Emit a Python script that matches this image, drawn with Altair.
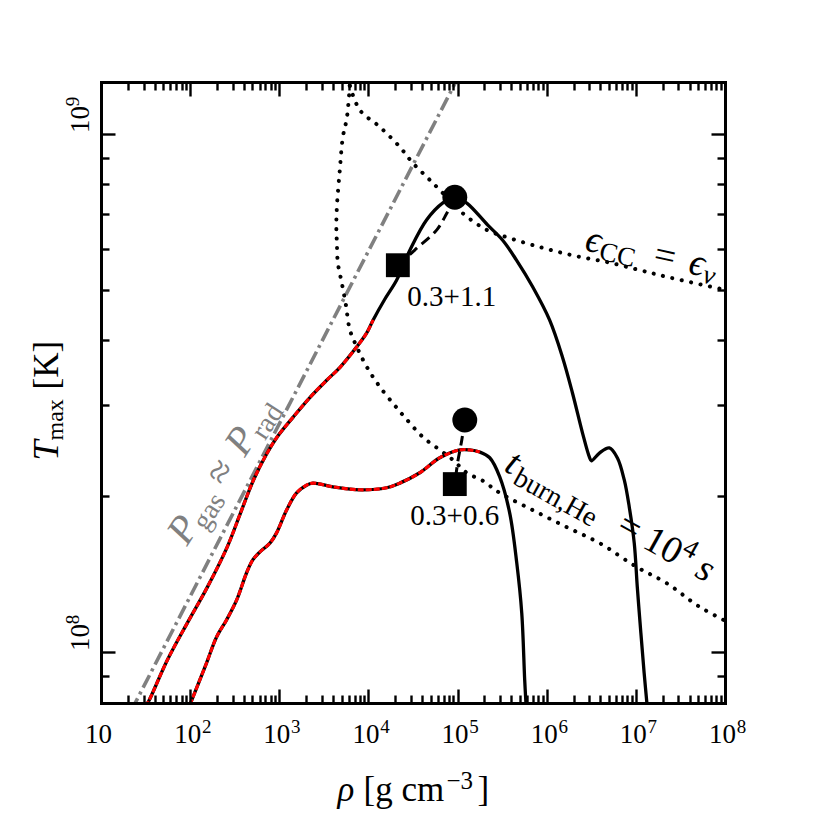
import altair as alt
import pandas as pd

FONT = "Liberation Serif"
W, H = 624, 621

x_domain = [10, 1e8]
y_domain = [7.97e7, 1.26e9]

x_major = [1e1, 1e2, 1e3, 1e4, 1e5, 1e6, 1e7, 1e8]
x_minor = [m * 10 ** k for k in range(1, 8) for m in range(2, 10)]
y_major = [1e8, 1e9]
y_minor = [9e7, 2e8, 3e8, 4e8, 5e8, 6e8, 7e8, 8e8, 9e8]

# upper track (0.3+1.1)
up_rho = [31.6, 34.7, 55.7, 93.1, 156, 261, 367, 514, 731, 946, 1439, 2228, 3428, 4831, 7396, 9572,
          1.130e4, 1.514e4, 2.075e4, 2.924e4, 4.487e4, 6.839e4, 9.33e4, 1.259e5, 2.183e5, 3.206e5,
          4.560e5, 6.950e5, 1.076e6, 1.503e6, 1.945e6, 2.518e6, 3.013e6, 3.170e6, 3.899e6, 5.047e6,
          6.194e6, 7.413e6, 8.433e6, 9.594e6, 1.038e7, 1.138e7, 1.239e7, 1.349e7]
up_T = [7.85e7, 8.07e7, 9.66e7, 1.138e8, 1.334e8, 1.596e8, 1.854e8, 2.148e8, 2.421e8, 2.600e8, 2.844e8,
        3.105e8, 3.350e8, 3.548e8, 3.882e8, 4.130e8, 4.375e8, 4.786e8, 5.224e8, 5.970e8, 6.823e8,
        7.362e8, 7.551e8, 7.362e8, 6.668e8, 6.237e8, 5.715e8, 5.070e8, 4.375e8, 3.707e8, 3.162e8,
        2.649e8, 2.377e8, 2.339e8, 2.421e8, 2.477e8, 2.371e8, 2.148e8, 1.905e8, 1.622e8, 1.334e8,
        1.089e8, 9.10e7, 7.76e7]
up_red_n = 17

# lower track (0.3+0.6)
lo_rho = [99.5, 153, 198, 256, 332, 430, 506, 607, 785, 933, 1208, 1563, 2023, 2382, 3990, 8017,
          1.596e4, 2.249e4, 3.767e4, 6.310e4, 1.057e5, 1.371e5, 1.774e5, 2.296e5, 2.972e5, 3.846e5,
          4.613e5, 5.248e5, 5.662e5, 5.888e5]
lo_T = [7.91e7, 9.53e7, 1.069e8, 1.153e8, 1.259e8, 1.422e8, 1.507e8, 1.560e8, 1.622e8, 1.698e8,
        1.879e8, 2.028e8, 2.099e8, 2.118e8, 2.084e8, 2.056e8, 2.075e8, 2.118e8, 2.218e8, 2.371e8,
        2.455e8, 2.455e8, 2.432e8, 2.371e8, 2.178e8, 1.854e8, 1.486e8, 1.189e8, 8.83e7, 7.80e7]
lo_red_n = 23

# eps_CC = eps_nu
eps_rho = [6180, 8017, 1.343e4, 2.249e4, 3.148e4, 4.519e4, 6.310e4, 1.143e5, 2.123e5, 3.565e5,
           8.356e5, 1.954e6, 4.710e6, 1.104e7, 2.213e7, 1.014e8]
eps_T = [1.239e9, 1.112e9, 1.032e9, 9.44e8, 8.79e8, 8.26e8, 7.80e8, 7.03e8, 6.53e8, 6.32e8,
         6.05e8, 5.83e8, 5.66e8, 5.46e8, 5.30e8, 5.00e8]

# t_burn,He = 1e4 s
tb_rho = [6180, 5728, 5164, 4775, 4426, 4365, 4426, 4539, 5035, 5585, 6180, 7413, 9594, 1.343e4,
          2.080e4, 2.692e4, 4.074e4, 6.310e4, 8.83e4, 1.268e5, 1.919e5, 2.972e5, 6.966e5, 1.675e6,
          3.926e6, 1.021e7, 2.213e7, 5.188e7, 1.014e8]
tb_T = [1.239e9, 1.074e9, 9.86e8, 8.53e8, 7.23e8, 6.61e8, 6.17e8, 5.64e8, 5.15e8, 4.68e8, 4.19e8,
        3.88e8, 3.55e8, 3.25e8, 2.96e8, 2.81e8, 2.60e8, 2.455e8, 2.350e8, 2.218e8, 2.140e8, 2.028e8,
        1.879e8, 1.742e8, 1.622e8, 1.459e8, 1.358e8, 1.222e8, 1.148e8]

# P_gas ~ P_rad
gas_rho = [21.8, 1.0e5]
gas_T = [7.7e7, 1.28e9]

# dashed connectors square -> circle
c1_rho = [2.138e4, 3.31e4, 5.85e4, 7.57e4, 9.31e4]
c1_T = [5.58e8, 5.97e8, 6.53e8, 7.03e8, 7.52e8]
c2_rho = [1.205e5, 1.114e5, 1.005e5, 9.31e4]
c2_T = [2.805e8, 2.564e8, 2.328e8, 2.109e8]

sq_rho = [2.138e4, 9.31e4]
sq_T = [5.58e8, 2.109e8]
ci_rho = [9.31e4, 1.205e5]
ci_T = [7.55e8, 2.805e8]

num_labels = ["0.3+1.1", "0.3+0.6"]
num_rho = [8.6e4, 9.3e4]
num_T = [4.66e8, 1.758e8]

eps_anchor = (2.60e6, 5.97e8)
tb_anchor = (3.21e5, 2.244e8)
gas_anchor = (92.0, 1.596e8)

xs = alt.Scale(type="log", domain=x_domain)
ys = alt.Scale(type="log", domain=y_domain)


def enc(xaxis=None, yaxis=None):
    return dict(x=alt.X("rho:Q", scale=xs, axis=xaxis), y=alt.Y("T:Q", scale=ys, axis=yaxis))


def line(rho, T, **mk):
    df = pd.DataFrame({"rho": rho, "T": T, "i": list(range(len(rho)))})
    return alt.Chart(df).mark_line(clip=True, **mk).encode(order="i:Q", **enc())


layers = []
layers.append(line(gas_rho, gas_T, color="#808080", strokeWidth=3.6, strokeDash=[14, 4.5, 3, 4.5]))
dots = dict(color="black", strokeWidth=4.0, strokeDash=[0.1, 9.5], strokeCap="round",
            interpolate="catmull-rom")
layers.append(line(eps_rho, eps_T, **dots))
layers.append(line(tb_rho, tb_T, **dots))
solid = dict(color="black", strokeWidth=3.3, interpolate="catmull-rom")
layers.append(line(up_rho, up_T, **solid))
layers.append(line(lo_rho, lo_T, **solid))
red = dict(color="#ff0000", strokeWidth=3.1, strokeDash=[6, 2], interpolate="catmull-rom")
layers.append(line(up_rho[:up_red_n], up_T[:up_red_n], **red))
layers.append(line(lo_rho[:lo_red_n], lo_T[:lo_red_n], **red))
dash = dict(color="black", strokeWidth=3, strokeDash=[10, 6], interpolate="catmull-rom")
layers.append(line(c1_rho, c1_T, **dash))
layers.append(line(c2_rho, c2_T, **dash))

layers.append(alt.Chart(pd.DataFrame({"rho": sq_rho, "T": sq_T})).mark_point(
    shape="square", filled=True, size=570, color="black", opacity=1).encode(**enc()))
layers.append(alt.Chart(pd.DataFrame({"rho": ci_rho, "T": ci_T})).mark_point(
    shape="circle", filled=True, size=620, color="black", opacity=1).encode(**enc()))

layers.append(alt.Chart(pd.DataFrame({"rho": num_rho, "T": num_T, "t": num_labels})).mark_text(
    font=FONT, fontSize=29, align="center", baseline="alphabetic", color="black").encode(
    text="t:N", **enc()))


def pieces(anchor, angle, items, color="black"):
    df = pd.DataFrame({"rho": [anchor[0]], "T": [anchor[1]]})
    out = []
    for txt, dx, dy, size, style in items:
        out.append(alt.Chart(df).mark_text(
            text=txt, dx=dx, dy=dy, fontSize=size, fontStyle=style, angle=angle, align="left",
            baseline="alphabetic", font=FONT, color=color).encode(**enc()))
    return out


layers += pieces(eps_anchor, 12.5, [
    ("ϵ", 0, 0, 38, "italic"), ("CC", 16, 6, 27, "normal"), ("=", 70, 0, 38, "normal"),
    ("ϵ", 106, 0, 38, "italic"), ("ν", 122, 6, 27, "italic")])
layers += pieces(tb_anchor, 29, [
    ("t", 0, 0, 38, "italic"), ("burn,He", 14, 7, 28, "normal"), ("=", 128, 0, 38, "normal"),
    ("10", 158, 0, 38, "normal"), ("4", 196, -14, 27, "normal"), ("s", 218, 0, 38, "italic")])
layers += pieces(gas_anchor, 303, [
    ("P", 0, 0, 40, "italic"), ("gas", 23, 8, 28, "normal"), ("≈", 70, 0, 40, "normal"),
    ("P", 106, 0, 40, "italic"), ("rad", 131, 8, 28, "normal")], color="#808080")

# axis carriers
cdf = pd.DataFrame({"rho": [1e3], "T": [3e8]})


def carrier(xaxis=None, yaxis=None):
    return alt.Chart(cdf).mark_point(opacity=0).encode(**enc(xaxis, yaxis))


def title_kw(text, x, y, size, style="normal", angle=0):
    return dict(title=text, titleFont=FONT, titleFontSize=size, titleFontStyle=style,
                titleFontWeight="normal", titleColor="black", titleX=x, titleY=y,
                titleAlign="left", titleBaseline="alphabetic", titleAngle=angle)


def lab_axis(orient, values, expr, size, pad, off, angle=0, align="center", **kw):
    return alt.Axis(orient=orient, values=values, labelExpr=expr, labelFont=FONT, labelFontSize=size,
                    labelColor="black", labelPadding=pad, labelOffset=off, labelAngle=angle,
                    labelAlign=align, labelBaseline="alphabetic", labelFlush=False,
                    labelOverlap=False, ticks=False, tickSize=0, domain=False, grid=False,
                    zindex=1, **kw)


def tick_axis(orient, values, size, domain, off):
    return alt.Axis(orient=orient, values=values, offset=off, labels=False, ticks=True,
                    tickSize=size, tickWidth=2.4, tickColor="black", domain=domain, domainWidth=3,
                    domainColor="black", domainCap="square", grid=False, title=None, zindex=1)


def title_axis(orient, **kw):
    return alt.Axis(orient=orient, labels=False, ticks=False, domain=False, grid=False, zindex=1, **kw)


EXP = "'' + round(log(datum.value) / LN10)"

layers.append(carrier(
    xaxis=lab_axis("bottom", x_major, "'10'", 27, 39, -3, **title_kw("ρ", 236, 97, 35, "italic")),
    yaxis=lab_axis("left", y_major, "'10'", 27, 13, -15, angle=270,
                   **title_kw("T", -44, 378, 36, "italic", 270))))
layers.append(carrier(
    xaxis=lab_axis("bottom", x_major[1:], EXP, 19, 29, 16, **title_kw("[g cm", 262, 97, 35)),
    yaxis=lab_axis("left", y_major, EXP, 19, 23, -33, angle=270,
                   **title_kw("max", -39, 358, 24, "normal", 270))))
layers.append(carrier(
    xaxis=title_axis("bottom", **title_kw("−3", 345, 85, 25)),
    yaxis=title_axis("left", **title_kw("[K]", -44, 307, 35, "normal", 270))))
layers.append(carrier(xaxis=title_axis("bottom", **title_kw("]", 376, 97, 35))))

layers.append(carrier(xaxis=tick_axis("top", x_major, 14, True, -H),
                      yaxis=tick_axis("right", y_major, 14, True, -W)))
layers.append(carrier(xaxis=tick_axis("top", x_minor, 8, False, -H),
                      yaxis=tick_axis("right", y_minor, 8, False, -W)))
layers.append(carrier(xaxis=tick_axis("bottom", x_major, 14, True, -H),
                      yaxis=tick_axis("left", y_major, 14, True, -W)))
layers.append(carrier(xaxis=tick_axis("bottom", x_minor, 8, False, -H),
                      yaxis=tick_axis("left", y_minor, 8, False, -W)))

chart = alt.layer(*layers).resolve_axis(x="independent", y="independent").properties(
    width=W, height=H,
    padding={"left": 93, "top": 74, "right": 80, "bottom": 112},
    autosize=alt.AutoSizeParams(type="none"),
    background="white",
).configure_view(strokeWidth=0).configure(font=FONT)

chart.save("out.html", embed_options={"renderer": "svg", "actions": False})
